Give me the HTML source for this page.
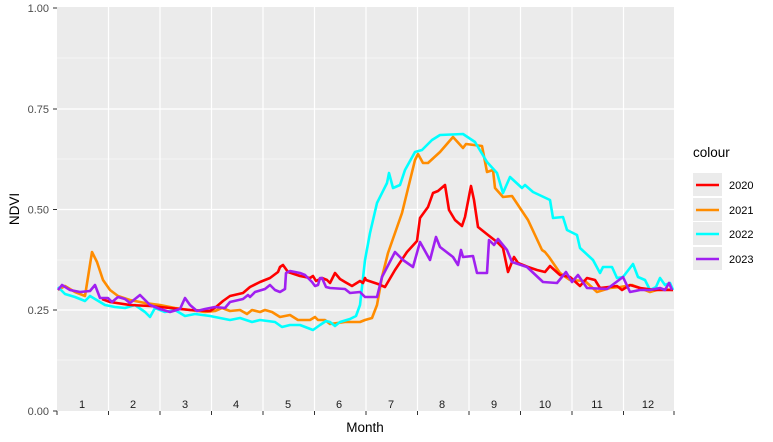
<!DOCTYPE html>
<html><head><style>body{margin:0;background:#fff}svg{display:block}</style></head><body>
<svg width="773" height="442" xmlns="http://www.w3.org/2000/svg" font-family="Liberation Sans, sans-serif">
<rect x="57" y="7" width="617" height="404" fill="#ebebeb"/>
<g stroke="#fff" stroke-width="0.6">
<line x1="57" x2="674" y1="360" y2="360"/><line x1="57" x2="674" y1="260" y2="260"/><line x1="57" x2="674" y1="159" y2="159"/><line x1="57" x2="674" y1="58" y2="58"/>
</g>
<g stroke="#fff" stroke-width="1.2">
<line x1="57" x2="674" y1="310" y2="310"/><line x1="57" x2="674" y1="209.5" y2="209.5"/><line x1="57" x2="674" y1="109" y2="109"/>
<line x1="108.5" x2="108.5" y1="7" y2="411"/><line x1="160" x2="160" y1="7" y2="411"/><line x1="211.5" x2="211.5" y1="7" y2="411"/><line x1="263" x2="263" y1="7" y2="411"/><line x1="314.5" x2="314.5" y1="7" y2="411"/><line x1="366" x2="366" y1="7" y2="411"/><line x1="417.5" x2="417.5" y1="7" y2="411"/><line x1="469" x2="469" y1="7" y2="411"/><line x1="520.5" x2="520.5" y1="7" y2="411"/><line x1="572" x2="572" y1="7" y2="411"/><line x1="623.5" x2="623.5" y1="7" y2="411"/>
</g>
<g stroke="#333" stroke-width="1">
<line x1="53" x2="57" y1="411" y2="411"/><line x1="53" x2="57" y1="310" y2="310"/><line x1="53" x2="57" y1="209.5" y2="209.5"/><line x1="53" x2="57" y1="109" y2="109"/><line x1="53" x2="57" y1="8" y2="8"/>
<line x1="57" x2="57" y1="411" y2="415"/><line x1="108.5" x2="108.5" y1="411" y2="415"/><line x1="160" x2="160" y1="411" y2="415"/><line x1="211.5" x2="211.5" y1="411" y2="415"/><line x1="263" x2="263" y1="411" y2="415"/><line x1="314.5" x2="314.5" y1="411" y2="415"/><line x1="366" x2="366" y1="411" y2="415"/><line x1="417.5" x2="417.5" y1="411" y2="415"/><line x1="469" x2="469" y1="411" y2="415"/><line x1="520.5" x2="520.5" y1="411" y2="415"/><line x1="572" x2="572" y1="411" y2="415"/><line x1="623.5" x2="623.5" y1="411" y2="415"/><line x1="674" x2="674" y1="411" y2="415"/>
</g>
<g font-size="11" fill="#4d4d4d" text-anchor="end">
<text x="49" y="415">0.00</text><text x="49" y="314">0.25</text><text x="49" y="213.5">0.50</text><text x="49" y="113">0.75</text><text x="49" y="12">1.00</text>
</g>
<g font-size="11" fill="#1a1a1a" text-anchor="middle">
<text x="82" y="408">1</text><text x="133" y="408">2</text><text x="185" y="408">3</text><text x="236" y="408">4</text><text x="288" y="408">5</text><text x="339" y="408">6</text><text x="391" y="408">7</text><text x="442" y="408">8</text><text x="494" y="408">9</text><text x="545" y="408">10</text><text x="597" y="408">11</text><text x="648" y="408">12</text>
</g>
<text x="365" y="432" font-size="13.5" text-anchor="middle" fill="#000">Month</text>
<text transform="translate(19,209) rotate(-90)" font-size="13.5" text-anchor="middle" fill="#000">NDVI</text>
<g fill="none" stroke-width="2.6" stroke-linejoin="round">
<polyline stroke="#ff8c00" points="58,290 65,286 75,292 85,296 92,252 97,262 103,280 110,290 118,296 130,300 145,303 160,305 175,308 190,310 205,312 215,311 222,308 230,311 240,310 247,314 252,310 260,312 265,310 272,312 280,317 290,315 298,320 310,320 315,317 318,320 325,320 330,324 345,322 360,322 365,320 372,318 377,305 382,277 388,253 402,213 415,160 418,154 423,163 428,163 440,152 453,137 463,148 466,144 482,146 487,172 493,170 495,188 503,197 512,196 528,220 542,250 545,252 549,257 560,273 570,280 585,281 597,292 610,288 620,287 632,285 640,288 650,292 660,289 673,290"/>
<polyline stroke="#00ffff" points="58,287 65,294 75,297 85,301 90,296 95,299 105,305 115,307 125,308 135,305 145,312 150,317 155,308 165,312 175,310 185,316 195,314 210,316 230,320 240,318 252,322 260,320 275,322 282,327 290,325 300,325 313,330 320,325 326,321 330,322 335,326 340,322 350,319 356,316 360,305 365,260 370,233 377,203 387,183 389,173 393,188 400,185 405,170 415,152 422,150 432,140 440,135 463,134 475,142 487,162 497,173 503,193 510,177 522,188 525,185 533,192 550,200 553,218 563,217 567,230 577,235 580,248 593,260 600,273 603,267 612,267 617,278 623,277 633,264 638,277 645,280 650,290 656,287 660,278 665,285 670,283 673,290"/>
<polyline stroke="#ff0000" points="102,299 110,302 130,305 150,306 170,308 190,310 210,311 216,307 223,301 230,296 243,293 250,287 260,282 270,278 278,272 280,267 283,265 288,272 300,276 310,278 313,276 316,281 322,278 327,280 330,283 335,273 340,279 345,282 352,286 360,281 363,283 365,278 366,280 378,284 385,287 395,270 407,252 417,241 420,218 428,207 433,193 438,191 445,185 449,210 455,220 462,226 465,217 471,186 474,200 478,227 488,235 497,242 503,248 508,272 514,257 518,263 528,267 537,270 545,272 550,266 560,275 570,277 580,286 587,278 595,280 600,288 617,286 622,290 630,285 640,288 655,290 673,290"/>
<polyline stroke="#a020f0" points="58,290 62,285 70,290 80,292 90,291 95,285 100,298 108,298 112,302 118,297 125,299 130,303 140,295 150,305 160,309 170,312 180,309 185,298 190,305 197,311 205,309 215,307 225,308 230,302 243,299 248,295 250,297 255,292 265,289 270,285 275,290 280,292 285,289 286,273 290,271 300,273 305,275 312,282 315,286 318,285 320,278 322,278 326,287 330,288 345,289 350,293 360,292 365,297 377,297 382,277 395,252 403,260 413,267 420,242 430,260 436,237 440,247 453,257 458,265 461,250 463,257 473,256 477,273 487,273 489,240 494,245 498,239 507,250 512,262 527,267 543,282 557,283 566,272 572,282 578,275 587,288 607,289 623,277 630,292 640,290 650,290 660,288 665,290 669,283 672,290"/>
</g>
<text x="693" y="157" font-size="13.5" fill="#000">colour</text>
<g>
<rect x="693" y="173" width="29" height="23" fill="#ebebeb"/><rect x="693" y="198" width="29" height="23" fill="#ebebeb"/><rect x="693" y="222" width="29" height="23" fill="#ebebeb"/><rect x="693" y="247" width="29" height="23" fill="#ebebeb"/>
<g stroke-width="2.6"><line x1="696" x2="719" y1="185" y2="185" stroke="#ff0000"/><line x1="696" x2="719" y1="210" y2="210" stroke="#ff8c00"/><line x1="696" x2="719" y1="234" y2="234" stroke="#00ffff"/><line x1="696" x2="719" y1="259" y2="259" stroke="#a020f0"/></g>
<g font-size="11" fill="#000"><text x="729" y="189">2020</text><text x="729" y="214">2021</text><text x="729" y="238">2022</text><text x="729" y="263">2023</text></g>
</g>
</svg>
</body></html>
